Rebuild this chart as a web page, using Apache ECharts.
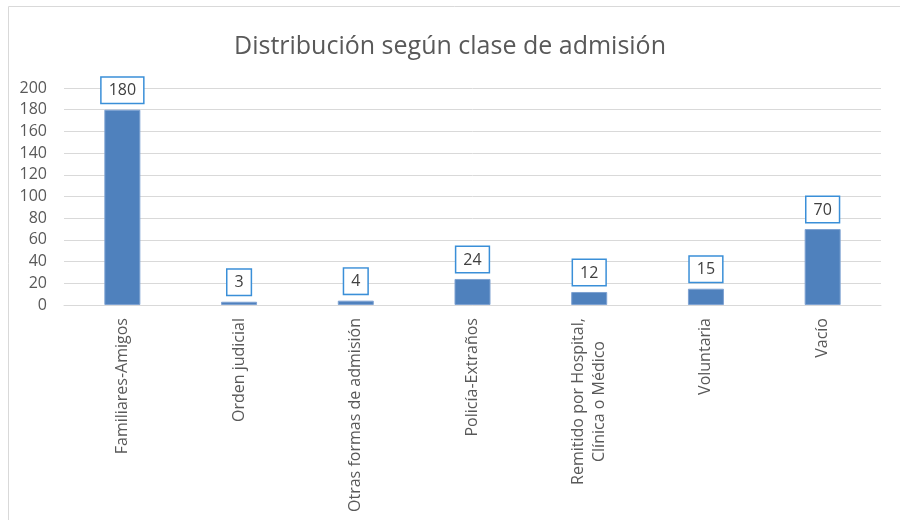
<!DOCTYPE html>
<html>
<head>
    <meta charset="UTF-8">
    <title>Distribución según clase de admisión</title>
    <script src="https://cdn.jsdelivr.net/npm/echarts@6.0.0/dist/echarts.min.js"></script>
    <style>
        html, body { margin: 0; padding: 0; background: #fff; }
        #chart { width: 900px; height: 520px; }
    </style>
</head>
<body>
<div id="chart"></div>
<script>
    // datos
    const categorias = [
        'Familiares-Amigos',
        'Orden judicial',
        'Otras formas de admisión',
        'Policía-Extraños',
        'Remitido por Hospital,\nClínica o Médico',
        'Voluntaria',
        'Vacío'
    ];
    const valores = [180, 3, 4, 24, 12, 15, 70];
    const ejeY = { min: 0, max: 200, interval: 20 };

    const fuente = '"Open Sans", "Noto Sans", sans-serif';
    const gris = '#595959';
    const tamEtiqueta = 16;

    // medir el texto para centrar las líneas de una etiqueta de varias líneas
    const ctx = document.createElement('canvas').getContext('2d');
    ctx.font = tamEtiqueta + 'px ' + fuente;
    function ancho(t) { return ctx.measureText(t).width; }

    // etiquetas de varias líneas: centradas entre sí, pegadas al eje
    const datosEje = categorias.map(function (c) {
        const lineas = c.split('\n');
        if (lineas.length === 1) return c;
        const max = Math.ceil(Math.max.apply(null, lineas.map(ancho)));
        return { value: c, textStyle: { align: 'center', padding: [0, max, 0, 0] } };
    });

    const chart = echarts.init(document.getElementById('chart'));

    chart.setOption({
        animation: false,
        textStyle: { fontFamily: fuente },
        title: {
            text: 'Distribución según clase de admisión',
            left: 'center',
            top: 29,
            textStyle: { fontSize: 25, fontWeight: 'normal', color: gris, fontFamily: fuente }
        },
        // marco del gráfico
        graphic: [{
            type: 'rect',
            shape: { x: 8.5, y: 6.5, width: 1000, height: 1000 },
            style: { fill: 'none', stroke: '#d9d9d9', lineWidth: 1 },
            silent: true
        }],
        grid: { left: 64, right: 19, top: 88, bottom: 215 },
        xAxis: {
            type: 'category',
            data: datosEje,
            axisTick: { show: false },
            axisLine: { lineStyle: { color: '#d9d9d9' } },
            axisLabel: {
                rotate: 90,
                interval: 0,
                margin: 13,
                color: gris,
                fontSize: tamEtiqueta,
                lineHeight: 21,
                fontFamily: fuente
            }
        },
        yAxis: {
            type: 'value',
            min: ejeY.min,
            max: ejeY.max,
            interval: ejeY.interval,
            axisLine: { show: false },
            axisTick: { show: false },
            splitLine: { lineStyle: { color: '#d9d9d9' } },
            axisLabel: { color: gris, fontSize: 16, margin: 17, fontFamily: fuente }
        },
        series: [{
            type: 'bar',
            data: valores,
            barWidth: 36,
            itemStyle: { color: '#4f81bd', borderColor: '#7ea2d2', borderWidth: 1 },
            label: {
                show: true,
                position: 'top',
                distance: 7,
                color: '#404040',
                fontSize: 16,
                fontFamily: fuente,
                backgroundColor: '#fff',
                borderColor: '#3a8fd8',
                borderWidth: 1.5,
                padding: [5, 7, 4, 7]
            }
        }]
    });
</script>
</body>
</html>
